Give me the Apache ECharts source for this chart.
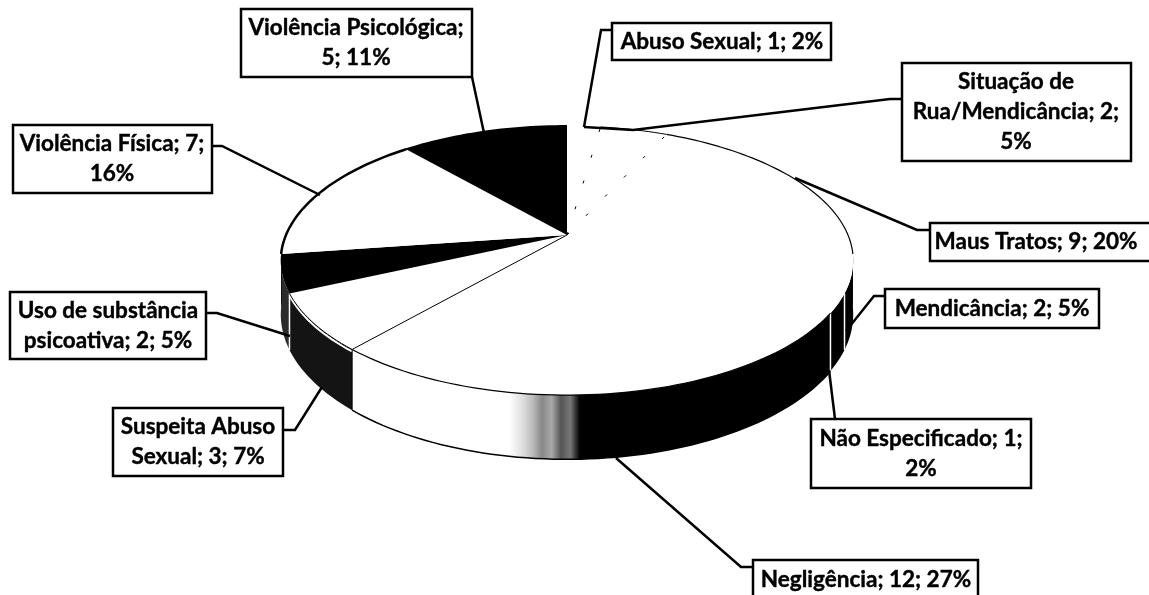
<!DOCTYPE html>
<html>
<head>
<meta charset="utf-8">
<style>
  html, body { margin: 0; padding: 0; background: #fff; overflow: hidden; }
  #chart { width: 1149px; height: 595px; }
</style>
</head>
<body>
<div id="chart"></div>
<script src="https://cdn.jsdelivr.net/npm/echarts@6/dist/echarts.min.js"></script>
<script>
// data, clockwise from 12 o'clock
const categories = ['Abuso Sexual', 'Situação de Rua/Mendicância', 'Maus Tratos', 'Mendicância', 'Não Especificado', 'Negligência', 'Suspeita Abuso Sexual', 'Uso de substância psicoativa', 'Violência Física', 'Violência Psicológica']
const values = [1, 2, 9, 2, 1, 12, 3, 2, 7, 5]
const labelTexts = [
  'Abuso Sexual; 1; 2%',
  'Situação de\nRua/Mendicância; 2;\n5%',
  'Maus Tratos; 9; 20%',
  'Mendicância; 2; 5%',
  'Não Especificado; 1;\n2%',
  'Negligência; 12; 27%',
  'Suspeita Abuso\nSexual; 3; 7%',
  'Uso de substância\npsicoativa; 2; 5%',
  'Violência Física; 7;\n16%',
  'Violência Psicológica;\n5; 11%'
]

// layout: label box [x, y, w, h] and leader line, same order as categories
const boxes = [
  [612, 23, 219, 37], [902, 63, 229, 98], [930, 223, 222, 38], [885, 289, 214, 39], [811, 419, 220, 69],
  [753, 560, 225, 40], [113, 408, 170, 68], [10, 292, 196, 67], [13, 125, 199, 68], [241, 9, 231, 68]
]
const textCenters = [722, 1016, 1036, 992, 921, 866, 198, 108, 112, 356]
const leaders = [
  [[612, 30], [601, 30], [584, 127]],
  [[902, 99], [890, 99], [633, 130], [584, 127]],
  [[930, 230], [917, 230], [795, 178]],
  [[885, 296], [874, 296], [846, 331]],
  [[835, 419], [829, 370]],
  [[753, 567], [741, 567], [616, 458]],
  [[283, 430], [295, 430], [322, 387]],
  [[206, 313], [217, 313], [290, 336]],
  [[212, 146], [222, 146], [320, 195]],
  [[472, 77], [484, 133]]
]

// per slice styles
const topFills = ['#fff', '#fff', '#fff', '#fff', '#fff', '#fff', '#fff', '#000', '#fff', '#000']
const arcWidths = [0, 1, 1.2, 0, 0, 1.2, 1, 0, 2.5, 2]
const spokeStyles = [null, [3, 24], [3, 24], null, null, null, [], null, null, null]
const negWall = new echarts.graphic.LinearGradient(358, 0, 830, 0, [
  { offset: 0, color: '#fff' }, { offset: 0.32, color: '#fff' }, { offset: 0.35, color: '#ddd' },
  { offset: 0.37, color: '#bbb' }, { offset: 0.39, color: '#888' }, { offset: 0.41, color: '#aaa' },
  { offset: 0.43, color: '#555' }, { offset: 0.45, color: '#777' }, { offset: 0.47, color: '#000' }, { offset: 1, color: '#000' }
], true)
const wallFills = [null, null, '#000', '#000', '#000', negWall, '#141414', '#2c2c2c', '#000', null]

// 3d pie projection
const cx = 567, cy = 235, a = 281, b = 129.7, k = -0.19, depth = 52
const wallFrom = 96, wallTo = 264

function project (deg, drop) {
  const rad = deg * Math.PI / 180
  const u = Math.sin(rad), v = -Math.cos(rad)
  const d = 1 + k * v
  return [cx + a * u / d, cy + b * v / d + (drop ? depth / d : 0)]
}

function arc (from, to, drop) {
  const pts = []
  const n = Math.max(2, Math.ceil(Math.abs(to - from) / 1.5))
  for (let i = 0; i <= n; i++) pts.push(project(from + (to - from) * i / n, drop))
  return pts
}

const total = values.reduce((s, v) => s + v, 0)
let sum = 0
const sliceRows = values.map((v, i) => {
  const row = [sum / total * 360, (sum + v) / total * 360, i]
  sum += v
  return row
})

function renderWall (params, api) {
  const i = api.value(2)
  const from = Math.max(api.value(0), wallFrom), to = Math.min(api.value(1), wallTo)
  if (from >= to) return null
  const children = [{
    type: 'polygon',
    shape: { points: arc(from, to, false).concat(arc(to, from, true)) },
    style: { fill: wallFills[i] }
  }]
  if (i === 5) {
    children.push({ type: 'polyline', shape: { points: arc(from, to, true) }, style: { fill: null, stroke: '#000', lineWidth: 1.5 } })
    children.push({ type: 'polyline', shape: { points: [project(from, false), project(from, true)] }, style: { fill: null, stroke: '#fff', lineWidth: 1.5 } })
  }
  if (i === 4) {
    children.push({ type: 'polyline', shape: { points: [project(from, false), project(from, true)] }, style: { fill: null, stroke: '#fff', lineWidth: 1.5 } })
  }
  if (i === 6) {
    children.push({ type: 'polyline', shape: { points: arc(from, to, false).map(p => [p[0], p[1] + 2]) }, style: { fill: null, stroke: '#fff', lineWidth: 2 } })
    children.push({ type: 'polyline', shape: { points: [project(from, false), project(from, true)] }, style: { fill: null, stroke: '#000', lineWidth: 1 } })
  }
  if (i === 7) {
    children.push({ type: 'polyline', shape: { points: [project(from, false), project(from, true)] }, style: { fill: null, stroke: '#fff', lineWidth: 1.5 } })
  }
  return { type: 'group', children }
}

function renderTop (params, api) {
  const i = api.value(2)
  const from = api.value(0), to = api.value(1)
  const rim = arc(from, to, false)
  const children = [{
    type: 'polygon',
    shape: { points: [[cx, cy]].concat(rim) },
    style: { fill: topFills[i] }
  }]
  if (arcWidths[i]) {
    children.push({ type: 'polyline', shape: { points: rim }, style: { fill: null, stroke: '#000', lineWidth: arcWidths[i] } })
  }
  if (spokeStyles[i]) {
    children.push({
      type: 'polyline',
      shape: { points: [[cx, cy], rim[0]] },
      style: { fill: null, stroke: '#000', lineWidth: 1, lineDash: spokeStyles[i] }
    })
  }
  return { type: 'group', children }
}

function renderLabel (params, api) {
  const i = api.value(0)
  const box = boxes[i]
  return {
    type: 'group',
    children: [{
      type: 'polyline',
      shape: { points: leaders[i] },
      style: { fill: null, stroke: '#000', lineWidth: 2.5 }
    }, {
      type: 'rect',
      shape: { x: box[0], y: box[1], width: box[2], height: box[3] },
      style: { fill: '#fff', stroke: '#000', lineWidth: 2.5 }
    }, {
      type: 'text',
      style: {
        x: textCenters[i],
        y: box[1] + box[3] / 2,
        text: labelTexts[i],
        fill: '#000',
        stroke: '#000',
        lineWidth: 0.4,
        font: 'bold 22.5px Lato',
        lineHeight: 30,
        align: 'center',
        verticalAlign: 'middle'
      }
    }]
  }
}

const myChart = echarts.init(document.getElementById('chart'), null, { renderer: 'canvas' })
myChart.setOption({
  animation: false,
  backgroundColor: '#fff',
  series: [{
    type: 'custom',
    coordinateSystem: 'none',
    name: 'walls',
    data: sliceRows,
    renderItem: renderWall,
    z: 1
  }, {
    type: 'custom',
    coordinateSystem: 'none',
    name: 'top',
    data: sliceRows,
    renderItem: renderTop,
    z: 2
  }, {
    type: 'custom',
    coordinateSystem: 'none',
    name: 'labels',
    data: categories.map((c, i) => [i, c]),
    renderItem: renderLabel,
    z: 3
  }]
})
</script>
</body>
</html>
